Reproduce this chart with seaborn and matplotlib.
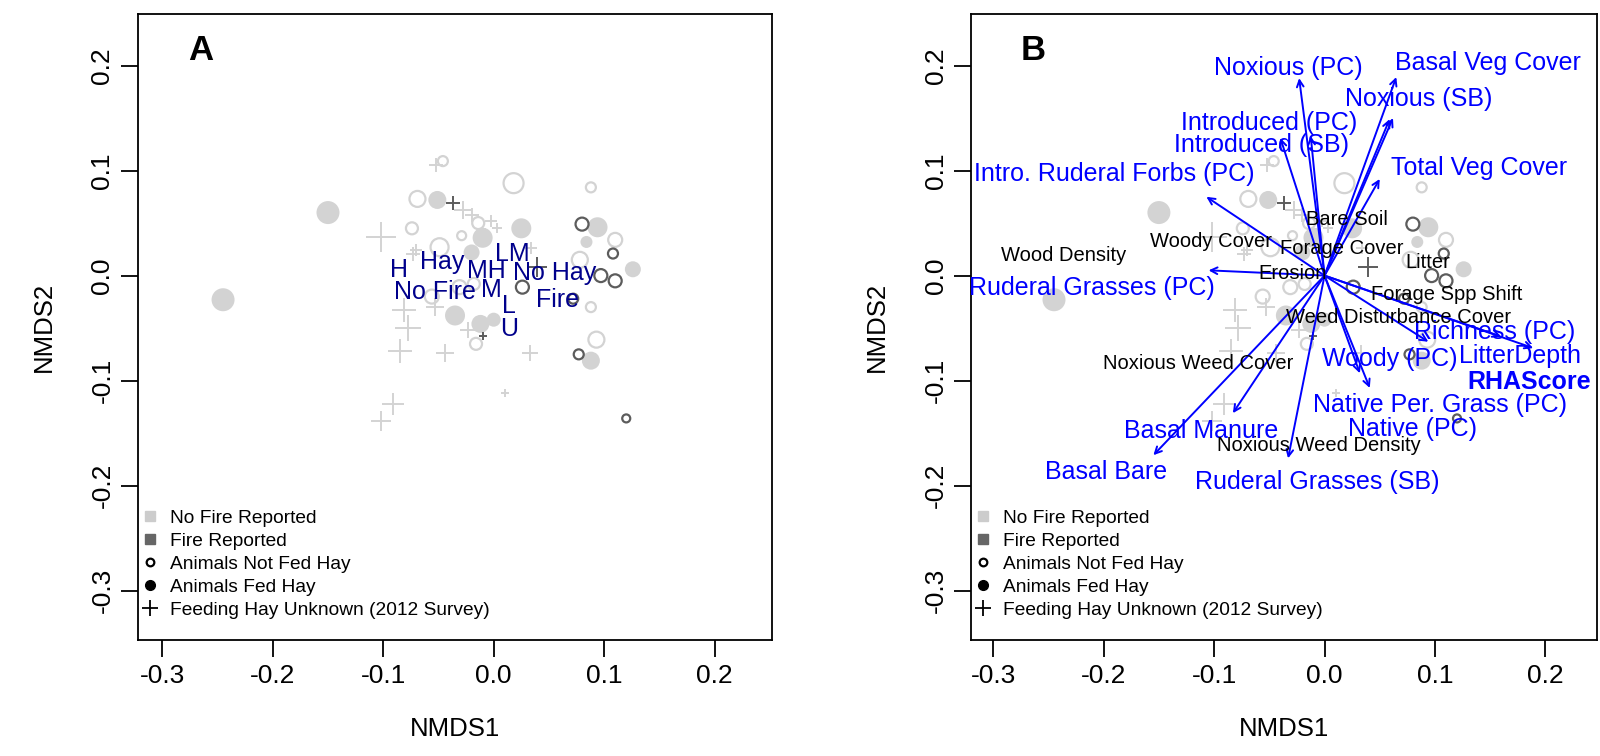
import numpy as np
import pandas as pd
import matplotlib
matplotlib.use("Agg")
import matplotlib.pyplot as plt
import seaborn as sns
from matplotlib.lines import Line2D

# site scores from the NMDS
nmds1 = [-0.245, -0.150, -0.051, 0.025, 0.094, 0.084, 0.126, 0.088, -0.035, -0.012, 0.000, -0.010, -0.020,
         -0.046, 0.018, 0.088, -0.069, -0.074, -0.049, -0.029, -0.014, 0.110, 0.078, 0.088, 0.093, -0.016,
         -0.056, -0.031, -0.018,
         0.080, 0.108, 0.097, 0.110, 0.026, 0.077, 0.120, 0.072,
         -0.052, -0.102, -0.028, -0.020, -0.073, -0.081, -0.078, -0.085, -0.044, -0.091, -0.102, -0.053,
         -0.023, 0.033, 0.010, -0.002, 0.003, -0.008, 0.034, -0.070,
         -0.037, 0.039, -0.010]
nmds2 = [-0.023, 0.060, 0.072, 0.045, 0.046, 0.032, 0.006, -0.081, -0.038, -0.046, -0.042, 0.036, 0.022,
         0.109, 0.088, 0.084, 0.073, 0.045, 0.027, 0.038, 0.050, 0.034, 0.015, -0.030, -0.061, -0.065,
         -0.020, -0.011, -0.008,
         0.049, 0.021, 0.000, -0.005, -0.011, -0.075, -0.136, -0.022,
         0.105, 0.037, 0.062, 0.058, 0.021, -0.033, -0.050, -0.072, -0.074, -0.122, -0.138, -0.030,
         -0.052, -0.074, -0.112, 0.052, 0.045, 0.040, 0.026, 0.024,
         0.069, 0.008, -0.058]
fire = [0] * 13 + [0] * 16 + [1] * 8 + [0] * 20 + [1] * 3
hay = ["fed"] * 13 + ["not"] * 16 + ["not"] * 8 + ["unk"] * 20 + ["unk"] * 3
cex = [2.3, 2.3, 1.8, 2.0, 2.0, 1.2, 1.6, 1.8, 2.0, 1.8, 1.4, 2.0, 1.6,
       1.0, 2.0, 1.0, 1.6, 1.2, 1.8, 0.9, 1.2, 1.4, 1.6, 1.0, 1.6, 1.2,
       1.4, 1.4, 1.2,
       1.3, 1.0, 1.3, 1.3, 1.3, 1.0, 0.8, 1.0,
       1.4, 3.0, 1.8, 1.4, 1.4, 2.4, 2.6, 2.4, 1.8, 2.2, 2.0, 1.8,
       1.6, 1.6, 0.8, 1.2, 1.0, 1.2, 1.2, 1.2,
       1.4, 2.0, 0.8]

# factor centroids in panel A
grp_labels = ["H", "Hay", "No Fire", "LM", "MH", "No Hay", "M", "Fire", "L", "U"]
grp_x = [-0.086, -0.047, -0.053, 0.017, -0.007, 0.055, -0.002, 0.058, 0.014, 0.014]
grp_y = [0.005, 0.013, -0.016, 0.021, 0.004, 0.002, -0.014, -0.023, -0.029, -0.051]

# envfit vectors (arrow tips) in panel B
vec_x = [-0.023, 0.065, 0.059, 0.062, -0.040, -0.0125, 0.050, -0.107, -0.105, 0.094, 0.189, 0.160,
         0.032, 0.041, -0.083, -0.155, -0.033]
vec_y = [0.188, 0.189, 0.149, 0.150, 0.131, 0.133, 0.092, 0.075, 0.005, -0.063, -0.069, -0.058,
         -0.093, -0.107, -0.131, -0.171, -0.174]

vec_labels = ["Noxious (PC)", "Basal Veg Cover", "Noxious (SB)", "Introduced (PC)", "Introduced (SB)",
              "Total Veg Cover", "Intro. Ruderal Forbs (PC)", "Ruderal Grasses (PC)", "Richness (PC)",
              "LitterDepth", "Woody (PC)", "Native Per. Grass (PC)", "Native (PC)", "Basal Manure",
              "Basal Bare", "Ruderal Grasses (SB)"]
vec_lx = [-0.033, 0.148, 0.085, -0.050, -0.057, 0.140, -0.190, -0.211, 0.154, 0.177, 0.059, 0.105,
          0.080, -0.112, -0.198, -0.007]
vec_ly = [0.198, 0.202, 0.168, 0.145, 0.124, 0.102, 0.097, -0.012, -0.054, -0.077, -0.079, -0.123,
          -0.146, -0.148, -0.187, -0.197]
score_label = "RHAScore"
score_x, score_y = 0.185, -0.101

# factor variables shown as plain text in panel B
fac_labels = ["Wood Density", "Woody Cover", "Bare Soil", "Forage Cover", "Litter", "Erosion",
              "Forage Spp Shift", "Weed Disturbance Cover", "Noxious Weed Cover", "Noxious Weed Density"]
fac_x = [-0.236, -0.103, 0.020, 0.016, 0.094, -0.029, 0.111, 0.067, -0.114, -0.005]
fac_y = [0.019, 0.032, 0.053, 0.026, 0.012, 0.002, -0.018, -0.040, -0.084, -0.162]

ticks_x = [-0.3, -0.2, -0.1, 0.0, 0.1, 0.2]
ticks_y = [-0.3, -0.2, -0.1, 0.0, 0.1, 0.2]
legend_labels = ["No Fire Reported", "Fire Reported", "Animals Not Fed Hay", "Animals Fed Hay",
                 "Feeding Hay Unknown (2012 Survey)"]

sites = pd.DataFrame({"NMDS1": nmds1, "NMDS2": nmds2, "fire": fire, "hay": hay, "cex": cex})

sns.set_theme(style="white", rc={"axes.edgecolor": "black", "axes.linewidth": 1.3,
                                 "xtick.bottom": True, "ytick.left": True,
                                 "xtick.color": "black", "ytick.color": "black",
                                 "text.color": "black", "axes.labelcolor": "black"})
plt.rcParams["font.family"] = ["Liberation Sans", "DejaVu Sans"]
plt.rcParams["axes.unicode_minus"] = False

LIGHT = "#d3d3d3"
DARK = "#5c5c5c"

fig = plt.figure(figsize=(16, 7.56), dpi=100)
axA = fig.add_axes([0.08625, 0.1534, 0.396, 0.828])
axB = fig.add_axes([0.607, 0.1534, 0.391, 0.828])


def draw_sites(ax):
    for (f, h), sub in sites.groupby(["fire", "hay"]):
        col = DARK if f == 1 else LIGHT
        s = (sub["cex"] * 7.2) ** 2
        if h == "fed":
            sns.scatterplot(data=sub, x="NMDS1", y="NMDS2", ax=ax, s=s, marker="o", color=col,
                            edgecolor=col, linewidth=0, legend=False, zorder=2)
        elif h == "not":
            sns.scatterplot(data=sub, x="NMDS1", y="NMDS2", ax=ax, s=s, marker="o", color=col,
                            facecolor="none", edgecolor=col, linewidth=1.6, legend=False, zorder=2)
        else:
            sns.scatterplot(data=sub, x="NMDS1", y="NMDS2", ax=ax, s=s, marker="+", color=col,
                            linewidth=1.4, legend=False, zorder=2)


def style_axes(ax, letter, xlim):
    ax.set_xlim(*xlim)
    ax.set_ylim(-0.347, 0.249)
    ax.set_xticks(ticks_x)
    ax.set_xticklabels([f"{t:.1f}" for t in ticks_x])
    ax.set_yticks(ticks_y)
    ax.set_yticklabels([f"{t:.1f}" for t in ticks_y], rotation=90, va="center")
    ax.tick_params(length=12, width=1.3, labelsize=19, pad=5)
    ax.set_xlabel("NMDS1", fontsize=18.5, labelpad=21)
    ax.set_ylabel("NMDS2", fontsize=18.5, labelpad=25)
    ax.text(0.099, 0.941, letter, transform=ax.transAxes, fontsize=25, fontweight="bold",
            ha="center", va="center")
    handles = [Line2D([], [], ls="", marker="s", ms=6.5, color="#cccccc"),
               Line2D([], [], ls="", marker="s", ms=6.5, color="#666666"),
               Line2D([], [], ls="", marker="o", ms=5.5, mfc="white", mec="black", mew=1.6),
               Line2D([], [], ls="", marker="o", ms=7, color="black"),
               Line2D([], [], ls="", marker="+", ms=11, color="black", mew=1.3)]
    ax.legend(handles, legend_labels, loc="lower left", bbox_to_anchor=(0.004, 0.034),
              frameon=False, fontsize=13.8, handlelength=1.0, handletextpad=0.55,
              labelspacing=0.29, borderpad=0, borderaxespad=0)


# panel A
draw_sites(axA)
for lab, x, y in zip(grp_labels, grp_x, grp_y):
    axA.text(x, y, lab, color="#00008b", fontsize=18, ha="center", va="center", zorder=4)
style_axes(axA, "A", (-0.322, 0.2516))

# panel B
draw_sites(axB)
for x, y in zip(vec_x, vec_y):
    axB.annotate("", xy=(x, y), xytext=(0, 0),
                 arrowprops=dict(arrowstyle="->", color="#0000ff", lw=1.4,
                                 shrinkA=0, shrinkB=0, mutation_scale=12), zorder=3)
for lab, x, y in zip(vec_labels, vec_lx, vec_ly):
    axB.text(x, y, lab, color="#0000ff", fontsize=18, ha="center", va="center", zorder=4)
axB.text(score_x, score_y, score_label, color="#0000ff", fontsize=18, fontweight="bold",
         ha="center", va="center", zorder=4)
for lab, x, y in zip(fac_labels, fac_x, fac_y):
    axB.text(x, y, lab, color="black", fontsize=14.5, ha="center", va="center", zorder=4)
style_axes(axB, "B", (-0.320, 0.2466))
for t in axB.texts:
    t.set_clip_on(True)

fig.savefig("out.png", dpi=100)
